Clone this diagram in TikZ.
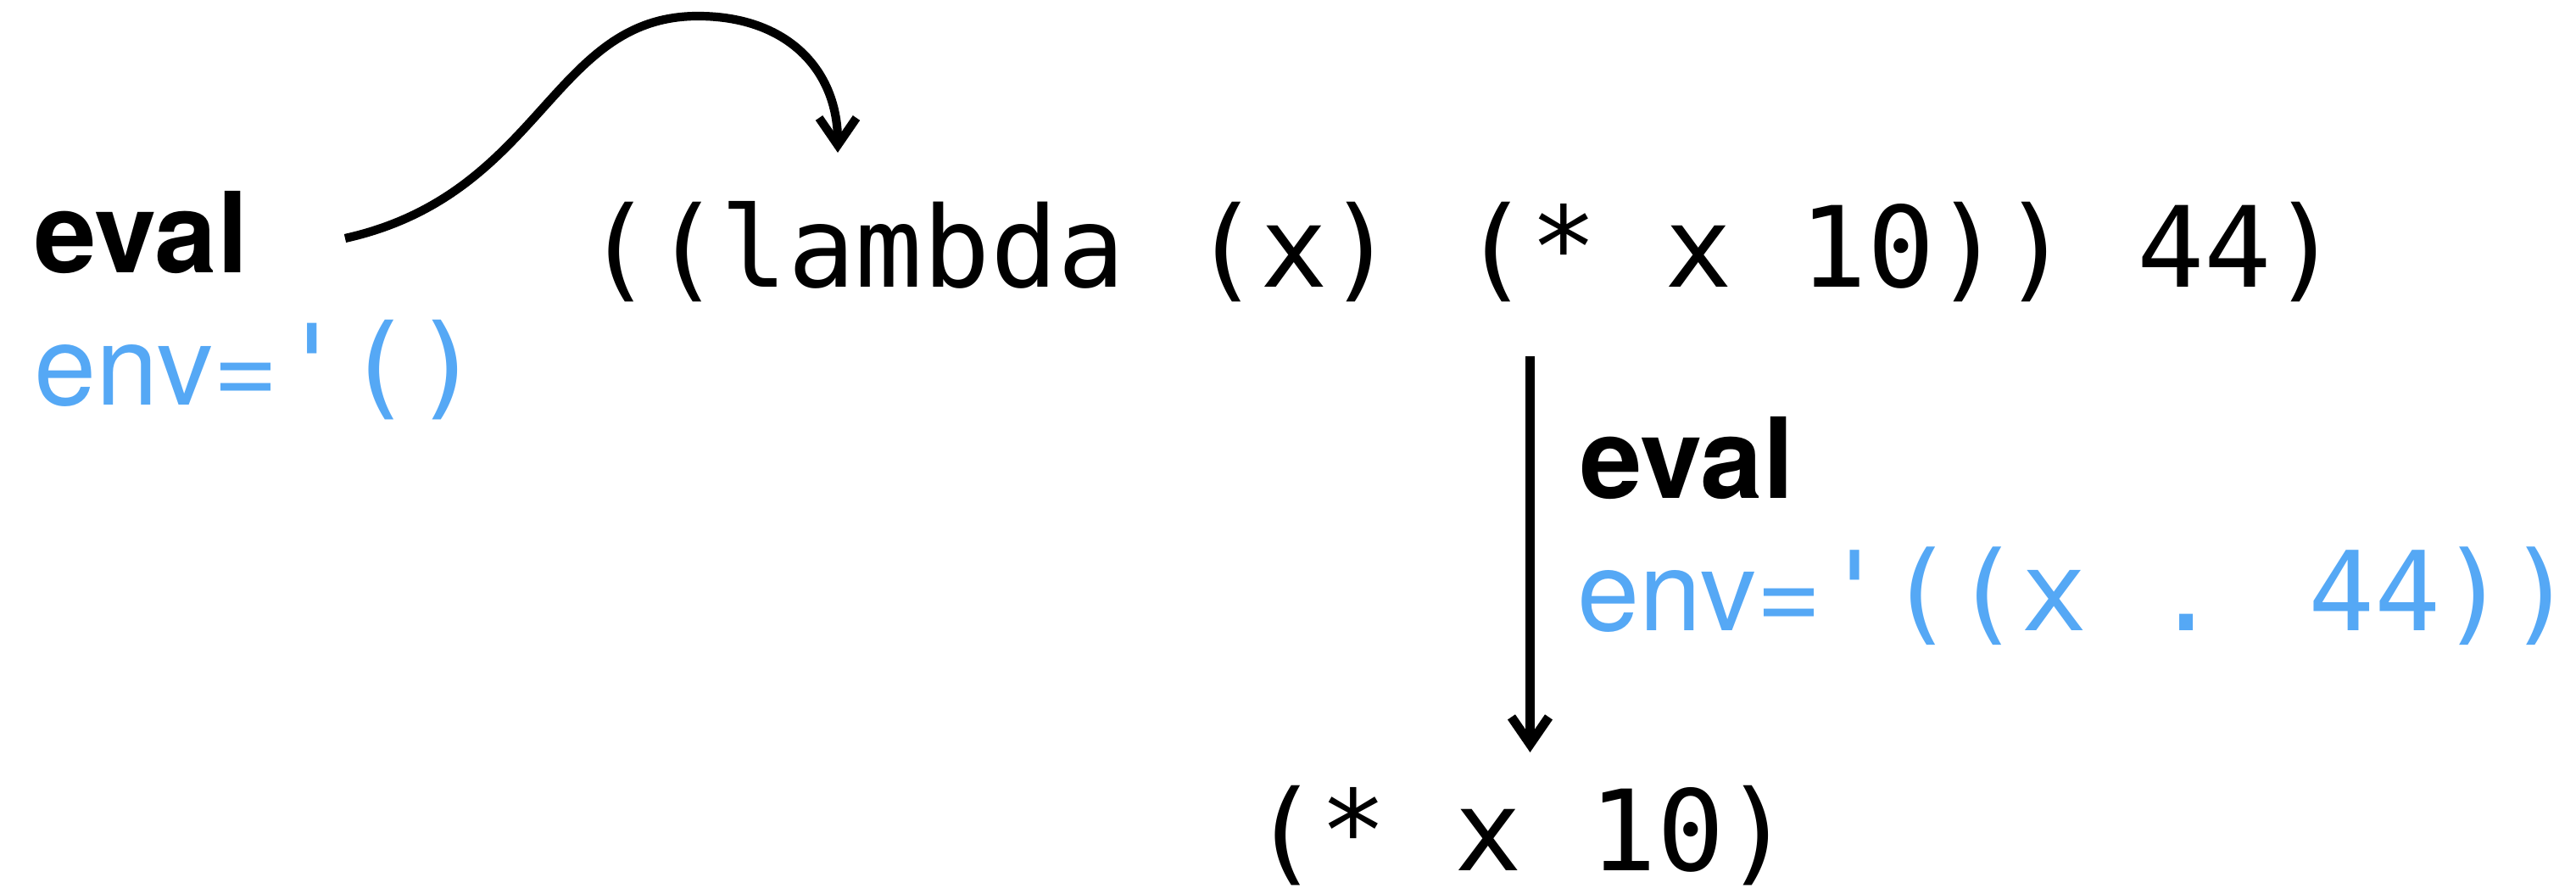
\documentclass[tikz,border=0pt]{standalone}
\usepackage{fontspec}
\setmainfont{TeX Gyre Heros}
\newfontfamily\monof{DejaVu Sans Mono}
\newfontfamily\sansf{TeX Gyre Heros}
\usetikzlibrary{arrows.meta}
\definecolor{envblue}{RGB}{85,168,245}
\newcommand{\monoc}{\fontsize{37.6}{42}\selectfont\monof}
\newcommand{\monoenv}{\fontsize{37}{42}\selectfont\monof}
\tikzset{
  txt/.style={inner sep=0pt, anchor=base west, font=\fontsize{37.5}{42}\selectfont},
  code/.style={txt, font=\monoc},
  envtxt/.style={txt, text=envblue},
  evaltxt/.style={txt, font=\fontsize{37.5}{42}\selectfont\sansf\bfseries},
  tip/.style={-{Straight Barb[length=0.32cm,width=0.44cm,line width=#1]}},
  curveconn/.style={line width=2.9pt, tip=2.9pt},
  vconn/.style={line width=3.1pt, tip=3.1pt}
}
\begin{document}
\begin{tikzpicture}
\useasboundingbox (0,0) rectangle (30.38,10.54);
\node[evaltxt] (eval1) at (0.40,7.32) {eval};
\node[envtxt] (env1) at (0.40,5.76) {env={\monoc'()}};
\node[code] (main) at (6.90,7.15) {((lambda (x) (* x 10)) 44)};
\node[evaltxt] (eval2) at (18.63,4.66) {eval};
\node[envtxt] (env2) at (18.60,3.10) {env={\monoenv'((x . 44))}};
\node[code] (body) at (14.76,0.27) {(* x 10)};
\coordinate (c1) at (4.07,7.73);
\coordinate (c2) at (9.88,8.74);
\coordinate (peak) at (8.23,10.35);
\coordinate (v1) at (18.045,6.34);
\coordinate (v2) at (18.045,1.67);
\draw[curveconn] (c1) .. controls (6.4,8.25) and (6.5,10.35) .. (peak)
  .. controls (9.3,10.35) and (9.88,9.7) .. (c2);
\draw[vconn] (v1) -- (v2);
\end{tikzpicture}
\end{document}
